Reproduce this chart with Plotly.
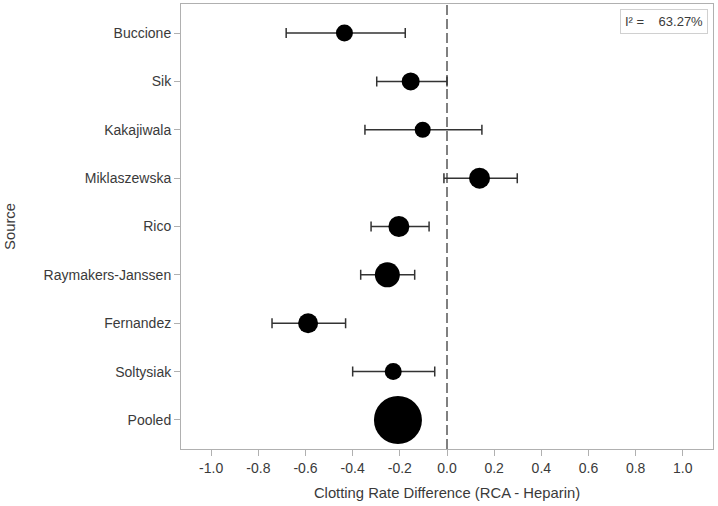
import plotly.graph_objects as go

sources = ["Buccione", "Sik", "Kakajiwala", "Miklaszewska", "Rico",
           "Raymakers-Janssen", "Fernandez", "Soltysiak", "Pooled"]
estimate = [-0.435, -0.154, -0.103, 0.138, -0.204, -0.253, -0.589, -0.228, -0.208]
ci_low = [-0.682, -0.298, -0.348, -0.013, -0.322, -0.366, -0.742, -0.400, -0.208]
ci_high = [-0.177, 0.000, 0.148, 0.298, -0.076, -0.137, -0.430, -0.052, -0.208]
weights = [17, 18, 16, 21, 21, 25, 20, 17, 48]
x_ticks = [-1.0, -0.8, -0.6, -0.4, -0.2, 0.0, 0.2, 0.4, 0.6, 0.8, 1.0]
i2_text = "I² =    63.27%"

err_plus = [h - e for h, e in zip(ci_high, estimate)]
err_minus = [e - l for e, l in zip(estimate, ci_low)]
ypos = list(range(len(sources)))
has_ci = [h != l for h, l in zip(ci_high, ci_low)]

FONT = "Liberation Sans, Arial, sans-serif"
TXT = "#3a3a3a"

fig = go.Figure()
fig.add_trace(go.Scatter(
    x=[e for e, c in zip(estimate, has_ci) if c],
    y=[y for y, c in zip(ypos, has_ci) if c],
    mode="markers",
    marker=dict(size=1, color="rgba(0,0,0,0)"),
    error_x=dict(type="data", symmetric=False,
                 array=[p for p, c in zip(err_plus, has_ci) if c],
                 arrayminus=[m for m, c in zip(err_minus, has_ci) if c],
                 color="#333333", thickness=1.5, width=5),
    hoverinfo="skip", showlegend=False,
))
fig.add_trace(go.Scatter(
    x=estimate, y=ypos, mode="markers",
    marker=dict(size=weights, color="#000000", opacity=1, line=dict(width=0)),
    opacity=1, showlegend=False,
))

fig.add_shape(type="line", xref="x", yref="paper", x0=0, x1=0, y0=0, y1=1,
              line=dict(color="#808080", width=2, dash="10px,4px"), layer="below")

fig.add_annotation(xref="paper", yref="paper", x=0.99, y=0.989,
                   xanchor="right", yanchor="top", text=i2_text, showarrow=False,
                   font=dict(family=FONT, size=13, color=TXT),
                   bordercolor="#d0d0d0", borderwidth=1, borderpad=4, bgcolor="white")

axis_common = dict(showgrid=False, zeroline=False, showline=True, linecolor="#b0b0b0",
                   linewidth=1, mirror=True, ticks="outside", tickcolor="#b0b0b0",
                   ticklen=6,
                   tickfont=dict(family=FONT, size=14, color=TXT))

fig.update_layout(
    width=718, height=506,
    margin=dict(l=181, r=5, t=4, b=57),
    paper_bgcolor="white", plot_bgcolor="white",
    xaxis=dict(range=[-1.128, 1.128], tickvals=x_ticks,
               ticktext=[f"{v:.1f}" for v in x_ticks],
               title=dict(text="Clotting Rate Difference (RCA - Heparin)", standoff=12,
                          font=dict(family=FONT, size=14.8, color=TXT)),
               **axis_common),
    yaxis=dict(range=[8.6, -0.6], tickvals=ypos, ticktext=sources,
               title=dict(text="Source", standoff=24,
                          font=dict(family=FONT, size=14.8, color=TXT)),
               **axis_common),
)

fig.write_html("out.html", config={"displayModeBar": False},
               post_script="document.body.style.margin='0px';document.body.style.padding='0px';")
